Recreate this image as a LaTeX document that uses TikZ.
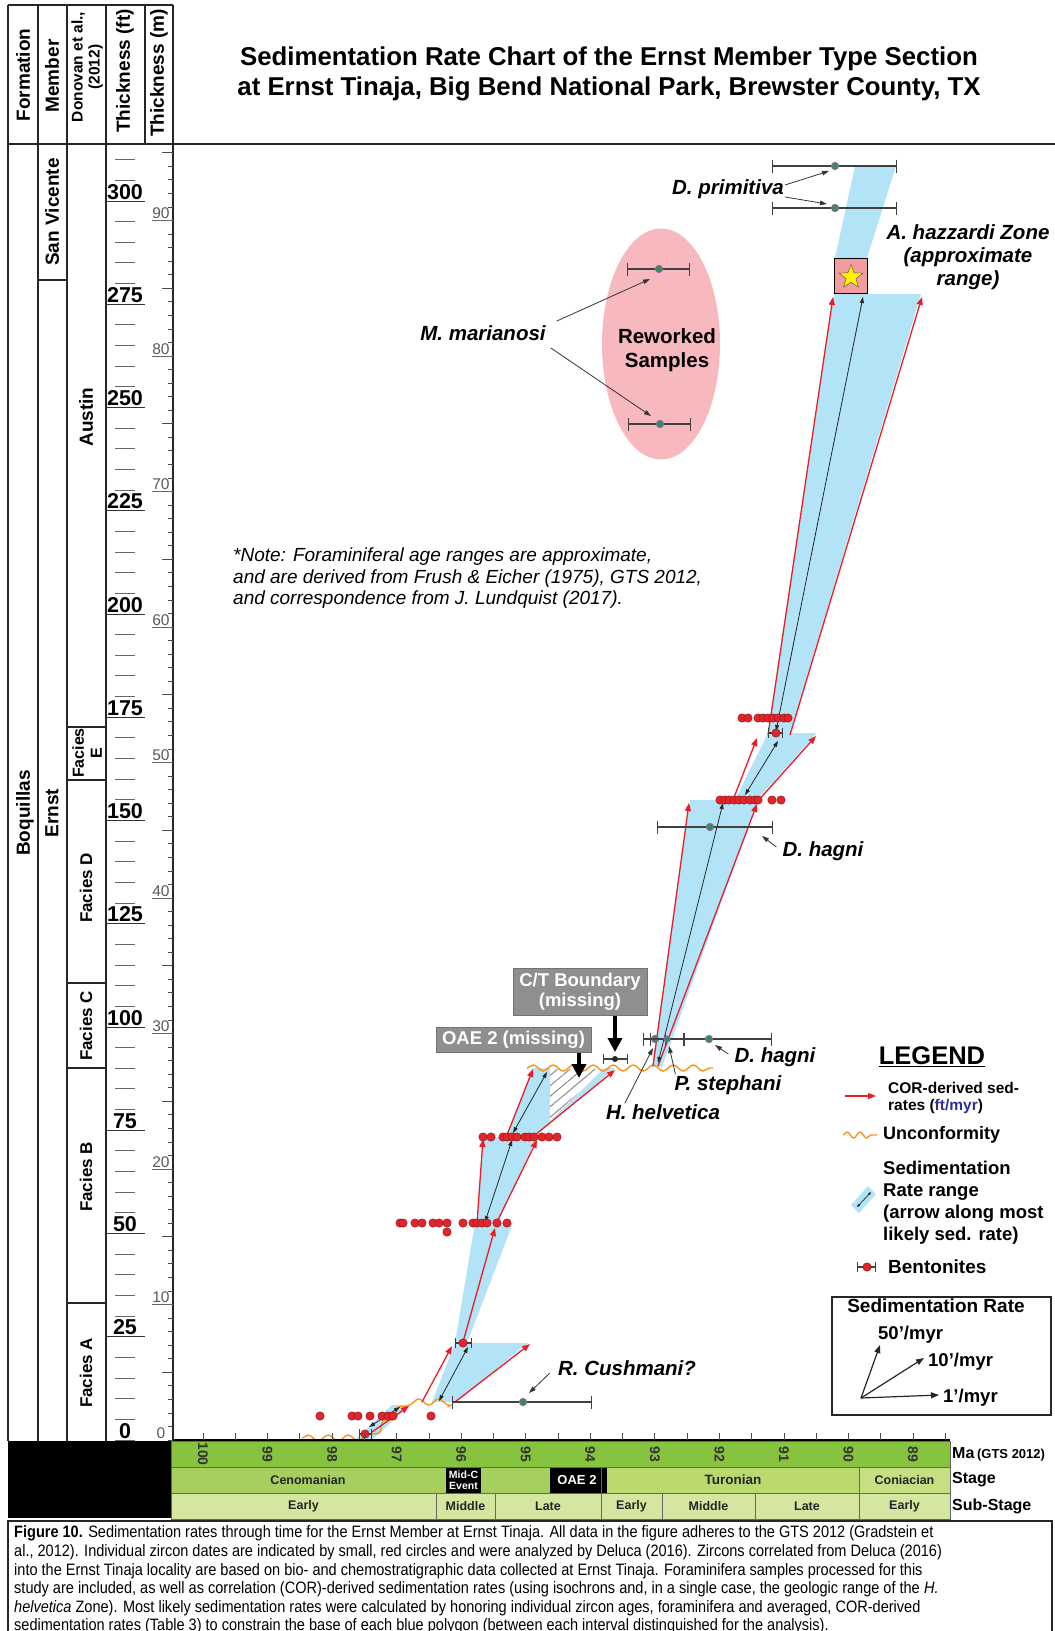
\documentclass[tikz,border=0pt]{standalone}
\usepackage{fontspec}
\setmainfont{Liberation Sans}
\newfontfamily\narrowfont[FakeStretch=0.881]{Liberation Sans}
\usetikzlibrary{arrows.meta,decorations.pathmorphing,patterns.meta,shapes.geometric}

\definecolor{rangeblue}{HTML}{B3E3F6}
\definecolor{corred}{HTML}{ED1C24}
\definecolor{zirconred}{HTML}{E3242B}
\definecolor{zirconrim}{HTML}{8E1B1F}
\definecolor{foramgreen}{HTML}{1E9A4C}
\definecolor{forampurple}{HTML}{A05CA8}
\definecolor{reworkpink}{HTML}{F7B9BE}
\definecolor{zonepink}{HTML}{F29CA0}
\definecolor{unconforange}{HTML}{F7941D}
\definecolor{missgray}{HTML}{8F8F8F}
\definecolor{magreen}{HTML}{86C440}
\definecolor{cenogreen}{HTML}{A6CF60}
\definecolor{turogreen}{HTML}{BAD96E}
\definecolor{conigreen}{HTML}{C6DF82}
\definecolor{subgreen}{HTML}{D5E6A0}
\definecolor{rateblue}{HTML}{2E3192}

\tikzset{
  frame/.style={line width=1.2pt, draw=black!85},
  colhead/.style={font=\fontsize{19}{21}\selectfont\bfseries, rotate=90, inner sep=0pt},
  facieshead/.style={font=\fontsize{17}{18}\selectfont\bfseries, rotate=90, inner sep=0pt, align=center},
  ftlabel/.style={font=\fontsize{21.5}{22}\selectfont\bfseries, anchor=base, inner sep=0pt},
  mlabel/.style={font=\fontsize{15.5}{16}\selectfont, text=black!65, anchor=base, inner sep=0pt},
  malabel/.style={font=\fontsize{14}{15}\selectfont\bfseries, text=black!80, rotate=-90, inner sep=0pt},
  bandtext/.style={font=\fontsize{12.5}{14}\selectfont\bfseries, text=black!85, inner sep=0pt},
  rowname/.style={font=\fontsize{16}{18}\selectfont\bfseries, anchor=west, inner sep=0pt},
  sedblue/.style={fill=rangeblue},
  cor/.style={draw=corred, line width=1.3pt, -{Triangle[length=8pt,width=6pt]}},
  likely/.style={draw=black!85, line width=0.8pt, {Triangle[length=6pt,width=4pt]}-{Triangle[length=6pt,width=4pt]}},
  ebar/.style={draw=black!75, line width=1.2pt, {Bar[width=13pt]}-{Bar[width=13pt]}},
  bbar/.style={draw=black!75, line width=1.2pt, {Bar[width=10pt]}-{Bar[width=10pt]}},
  zircon/.style={fill=zirconred, draw=zirconrim, line width=0.5pt},
  foram/.style={fill=foramgreen, draw=forampurple, line width=1pt},
  unconf/.style={draw=unconforange, line width=1.4pt, decorate, decoration={snake, segment length=20pt, amplitude=3pt}},
  species/.style={font=\fontsize{20.5}{23}\selectfont\bfseries\itshape, inner sep=1pt, align=center},
  pointer/.style={draw=black!80, line width=0.8pt, -{Triangle[length=7pt,width=4.5pt]}},
  missing/.style={fill=missgray, draw=black!55, line width=1pt, text=white, font=\fontsize{18.5}{20}\selectfont\bfseries, align=center, inner sep=0pt},
  bigdown/.style={draw=black, line width=3.5pt, -{Triangle[length=14pt,width=14pt]}},
  legtext/.style={font=\fontsize{18.5}{22}\selectfont\bfseries, anchor=west, inner sep=0pt, align=left},
  caption/.style={font=\narrowfont\fontsize{16.5}{18}\selectfont, anchor=west, inner sep=0pt}
}

\begin{document}
\begin{tikzpicture}[x=1pt,y=-1pt]
\useasboundingbox (0,0) rectangle (1055,1631);

% title
\node[font=\fontsize{25.8}{30}\selectfont\bfseries, align=center] (title) at (609,74)
  {Sedimentation Rate Chart of the Ernst Member Type Section\\at Ernst Tinaja, Big Bend National Park, Brewster County, TX};

% column frame
\draw[frame] (8,5) -- (173,5);
\foreach \x in {8,38,67,106,145,173} \draw[frame] (\x,5) -- (\x,144);
\draw[frame] (8,144) -- (1055,144);
\foreach \x in {8,38,67,106,173} \draw[frame] (\x,144) -- (\x,1441);
\draw[frame] (38,280) -- (67,280);
\foreach \y in {727,780,983,1068,1303} \draw[frame] (67,\y) -- (106,\y);

\node[colhead] (hform) at (23,75) {Formation};
\node[colhead] (hmember) at (52,76) {Member};
\node[colhead, align=center, font=\fontsize{15.5}{17}\selectfont\bfseries] (hdonovan) at (87,67) {Donovan et al.,\\(2012)};
\node[colhead] (hft) at (125,71) {Thickness (ft)};
\node[colhead] (hm) at (159,73) {Thickness (m)};

\node[colhead] (boq) at (25,813) {Boquillas};
\node[colhead] (sanv) at (52,212) {San Vicente};
\node[colhead] (ernst) at (52,813) {Ernst};
\node[colhead] (austin) at (86,417) {Austin};
\node[facieshead, font=\fontsize{16}{18}\selectfont\bfseries] (facE) at (87,753) {Facies\\E};
\node[facieshead] (facD) at (86,888) {Facies D};
\node[facieshead] (facC) at (86,1026) {Facies C};
\node[facieshead] (facB) at (86,1177) {Facies B};
\node[facieshead] (facA) at (86,1373) {Facies A};

% thickness scales
\foreach \f in {0,5,...,310} \draw[black!60, line width=1pt] (115,{1440-4.13*\f}) -- (135,{1440-4.13*\f});
\foreach \f in {25,50,...,300} \draw[black!80, line width=1pt] (106,{1440-4.13*\f}) -- (145,{1440-4.13*\f});
\foreach \f in {0,25,...,300} \node[ftlabel] at (125,{1438-4.13*\f}) {\f};
\foreach \m in {0,...,95} \draw[black!70, line width=0.8pt] (168,{1440-13.55*\m}) -- (173,{1440-13.55*\m});
\foreach \m in {5,15,...,95} \draw[black!70, line width=0.8pt] (162,{1440-13.55*\m}) -- (173,{1440-13.55*\m});
\foreach \m in {10,20,...,90} \draw[black!60, line width=0.8pt] (152,{1440-13.55*\m}) -- (173,{1440-13.55*\m});
\foreach \m in {0,10,...,90} \node[mlabel] at (161,{1438-13.55*\m}) {\m};

% reworked samples
\fill[reworkpink] (661,344) ellipse (59 and 115.5);
\node[font=\fontsize{20.5}{24}\selectfont\bfseries, align=center] (rework) at (667,350) {Reworked\\Samples};

% note
\node[font=\fontsize{19}{21.5}\selectfont\itshape, anchor=north west, align=left, inner sep=0pt] (note) at (233,548)
  {*Note: Foraminiferal age ranges are approximate,\\and are derived from Frush \& Eicher (1975), GTS 2012,\\and correspondence from J. Lundquist (2017).};

% blue sedimentation rate polygons
\fill[sedblue] (855,166) -- (896,166) -- (867,258) -- (835,258) -- cycle;
\fill[sedblue] (768,733) -- (790,733) -- (921,294) -- (834,294) -- cycle;
\fill[sedblue] (735,800) -- (757,800) -- (817,733) -- (768,733) -- cycle;
\fill[sedblue] (652,1067) -- (662,1067) -- (758,800) -- (690,800) -- cycle;
\fill[sedblue] (506,1136) -- (533,1068) -- (615,1068) -- (535,1136) -- cycle;
\fill[sedblue] (477,1223) -- (497,1223) -- (537,1137) -- (483,1137) -- cycle;
\fill[sedblue] (455,1343) -- (467,1343) -- (513,1223) -- (475,1223) -- cycle;
\fill[sedblue] (432,1402) -- (456,1402) -- (528,1343) -- (455,1343) -- cycle;
\fill[sedblue] (355,1440) -- (372,1440) -- (410,1405) -- (392,1405) -- cycle;
\fill[white] (550,1068) -- (604,1068) -- (550,1121) -- cycle;
\fill[pattern={Lines[angle=40,distance=8pt,line width=1pt]}, pattern color=black!45] (550,1069) -- (603,1069) -- (550,1120) -- cycle;

% A. hazzardi zone
\draw[fill=zonepink, line width=1pt] (834,258) rectangle (867,293);
\node[star, star points=5, star point ratio=2.4, fill=yellow, draw=black!70, minimum size=25pt, inner sep=0pt] (hazstar) at (851,277) {};
\node[species] (hazz) at (968,257) {A. hazzardi Zone\\(approximate\\range)};

% unconformities
\draw[unconf] (527,1068) -- (713,1068);
\draw[unconf] (302,1438) -- (362,1438) -- (397,1405) -- (453,1405);

% COR-derived and most likely rates
\draw[cor] (768,735) -- (833,297);
\draw[cor] (790,735) -- (922,297);
\draw[likely] (776,731) -- (863,297);
\draw[cor] (733,800) -- (757,738);
\draw[cor] (757,802) -- (816,736);
\draw[likely] (745,795) -- (778,741);
\draw[cor] (653,1066) -- (689,803);
\draw[cor] (658,1066) -- (757,804);
\draw[likely] (658,1063) -- (723,803);
\draw[cor] (507,1135) -- (533,1069);
\draw[cor] (535,1135) -- (615,1070);
\draw[likely] (513,1133) -- (547,1072);
\draw[cor] (477,1223) -- (483,1139);
\draw[cor] (497,1222) -- (537,1140);
\draw[likely] (485,1222) -- (512,1140);
\draw[cor] (463,1342) -- (495,1228);
\draw[cor] (422,1402) -- (452,1346);
\draw[cor] (455,1402) -- (530,1344);
\draw[likely] (439,1401) -- (468,1347);
\draw[cor] (372,1432) -- (409,1406);
\draw[likely] (369,1427) -- (400,1407);

% foraminifera ranges
\draw[ebar] (772,166) -- (897,166); \filldraw[foram] (835,166) circle (3.6);
\draw[ebar] (772,208) -- (897,208); \filldraw[foram] (835,208) circle (3.6);
\draw[ebar] (627,269) -- (690,269); \filldraw[foram] (659,269) circle (3.6);
\draw[ebar] (628,424) -- (691,424); \filldraw[foram] (660,424) circle (3.6);
\draw[ebar] (657,827) -- (773,827); \filldraw[foram] (710,827) circle (3.6);
\draw[ebar] (684,1039) -- (772,1039); \filldraw[foram] (709,1039) circle (3.6);
\draw[ebar] (643,1039) -- (666,1039); \filldraw[foram] (655,1039) circle (3.6);
\draw[ebar] (650,1039) -- (684,1039); \filldraw[foram] (667,1039) circle (3);
\draw[bbar] (603,1059) -- (628,1059); \fill[black!85] (615,1059) circle (3);

\draw[ebar] (452,1402) -- (592,1402); \filldraw[foram] (523,1402) circle (3.6);

% zircon dates (bentonites)
\foreach \x in {742,748,758,763,768,773,778,784,788} \filldraw[zircon] (\x,718) circle (4.2);
\draw[bbar] (768,733) -- (783,733); \filldraw[zircon] (776,733) circle (4.2);
\foreach \x in {720,725,729,734,739,744,750,755,758,772,781} \filldraw[zircon] (\x,800) circle (4.2);
\foreach \x in {483,491,503,507,512,517,525,529,534,542,549,557} \filldraw[zircon] (\x,1137) circle (4.2);
\foreach \x in {400,403,415,422,433,439,447,463,473,477,482,487,497,507} \filldraw[zircon] (\x,1223) circle (4.2);
\filldraw[zircon] (447,1232) circle (4.2);
\draw[bbar] (455,1343) -- (472,1343); \filldraw[zircon] (463,1343) circle (4.2);
\foreach \x in {320,352,358,370,382,388,393,431} \filldraw[zircon] (\x,1416) circle (4.2);
\draw[bbar] (359,1434) -- (372,1434); \filldraw[zircon] (365,1434) circle (4.2);

% species labels
\node[species] (dprim) at (728,189) {D. primitiva};
\coordinate (dprimtop) at (829,171);
\coordinate (dprimlow) at (827,204);
\draw[pointer] ([yshift=4pt]dprim.east) -- (dprimtop);
\draw[pointer] ([yshift=-8pt]dprim.east) -- (dprimlow);

\node[species] (mmar) at (483,333) {M. marianosi};
\coordinate (mmartop) at (650,279);
\coordinate (mmarlow) at (651,416);
\draw[pointer] ([xshift=10pt,yshift=12pt]mmar.east) -- (mmartop);
\draw[pointer] ([xshift=4pt,yshift=-15pt]mmar.east) -- (mmarlow);

\node[species] (dhagtop) at (823,851) {D. hagni};
\coordinate (dhagtoptip) at (762,836);
\draw[pointer] ([xshift=-5pt,yshift=4pt]dhagtop.west) -- (dhagtoptip);

\node[species] (dhaglow) at (775,1057) {D. hagni};
\coordinate (dhaglowtip) at (715,1045);
\draw[pointer] ([xshift=-5pt,yshift=3pt]dhaglow.west) -- (dhaglowtip);

\node[species] (pstep) at (728,1085) {P. stephani};
\coordinate (psteptip) at (669,1046);
\draw[pointer] ([xshift=2pt]pstep.north west) -- (psteptip);

\node[species] (hhelv) at (663,1112) {H. helvetica};
\coordinate (hhelvtip) at (653,1048);
\draw[pointer] ([xshift=20pt]hhelv.north west) -- (hhelvtip);

\node[species] (rcush) at (627,1368) {R. Cushmani?};
\coordinate (rcushtip) at (529,1393);
\draw[pointer] ([xshift=-7pt,yshift=-5pt]rcush.west) -- (rcushtip);

% missing intervals
\node[missing, minimum width=134pt, minimum height=47pt] (ctbox) at (580,992) {C/T Boundary\\(missing)};
\coordinate (cttip) at (615,1052);
\draw[bigdown] ([xshift=35pt]ctbox.south) -- (cttip);
\node[missing, minimum width=155pt, minimum height=25pt] (oaebox) at (513.5,1039.5) {OAE 2 (missing)};
\coordinate (oaetip) at (579,1078);
\draw[bigdown] ([xshift=65.5pt]oaebox.south) -- (oaetip);

% legend
\node[font=\fontsize{25.5}{28}\selectfont\bfseries, inner sep=0pt] (legtitle) at (932,1057) {\underline{LEGEND}};
\coordinate (legcorA) at (845,1096); \coordinate (legcorB) at (876,1096);
\draw[cor] (legcorA) -- (legcorB);
\node[legtext, font=\fontsize{15.5}{17}\selectfont\bfseries] (legcor) at (888,1098) {COR-derived sed-\\rates (\textcolor{rateblue}{ft/myr})};
\coordinate (legwavA) at (843,1135); \coordinate (legwavB) at (877,1135);
\draw[unconf, decoration={snake, segment length=13pt, amplitude=3pt}] (legwavA) -- (legwavB);
\node[legtext, font=\fontsize{18}{20}\selectfont\bfseries] (legunc) at (883,1135) {Unconformity};
\fill[sedblue] (851,1205) -- (859,1213) -- (876,1194) -- (868,1186) -- cycle;
\coordinate (legrngA) at (857,1207); \coordinate (legrngB) at (871,1192);
\draw[black!85, line width=0.7pt, {Triangle[length=3pt,width=2.5pt]}-{Triangle[length=3pt,width=2.5pt]}] (legrngA) -- (legrngB);
\node[legtext] (legrng) at (883,1203) {Sedimentation\\Rate range\\(arrow along most\\likely sed. rate)};
\coordinate (legbenA) at (857,1267); \coordinate (legbenB) at (876,1267);
\draw[bbar] (legbenA) -- (legbenB); \filldraw[zircon] (867,1267) circle (4.2);
\node[legtext, font=\fontsize{19}{21}\selectfont\bfseries] (legben) at (888,1267) {Bentonites};

\draw[line width=1.2pt, black!85] (832,1297) rectangle (1051,1415);
\node[font=\fontsize{19}{21}\selectfont\bfseries, inner sep=0pt] (ratetitle) at (936,1306) {Sedimentation Rate};
\coordinate (rateorig) at (861,1398);
\node[legtext] (rate50) at (878,1335) {50’/myr};
\node[legtext] (rate10) at (928,1362) {10’/myr};
\node[legtext] (rate1) at (943,1398) {1’/myr};
\draw[black!85, line width=1.2pt, -{Triangle[length=8pt,width=6pt]}] (rateorig) -- (880,1345);
\draw[black!85, line width=1.2pt, -{Triangle[length=8pt,width=6pt]}] (rateorig) -- (924,1358);
\draw[black!85, line width=1.2pt, -{Triangle[length=8pt,width=6pt]}] (rateorig) -- (939,1395);

% time scale
\fill[black] (8,1441) rectangle (171,1518);
\fill[magreen] (171,1441) rectangle (950,1467);
\fill[cenogreen] (171,1467) rectangle (601,1493);
\fill[turogreen] (601,1467) rectangle (859,1493);
\fill[conigreen] (859,1467) rectangle (950,1493);
\fill[subgreen] (171,1493) rectangle (950,1519);
\fill[black] (446,1467) rectangle (481,1493);
\fill[black] (550,1467) rectangle (607,1493);
\draw[black!60, line width=1pt] (171,1441) rectangle (950,1519);
\draw[black!60, line width=1pt] (171,1467) -- (950,1467) (171,1493) -- (950,1493);
\draw[black!60, line width=1pt] (601,1467) -- (601,1493) (859,1467) -- (859,1493);
\foreach \x in {436,495,601,662,755,859} \draw[black!60, line width=1pt] (\x,1493) -- (\x,1519);
\draw[black, line width=1.2pt] (173,1440) -- (950,1440);
\foreach \k in {0,...,23} \draw[black!70, line width=0.8pt] ({203+32.275*\k},1440) -- ({203+32.275*\k},1433);
\foreach \k in {0,...,11} {
  \pgfmathtruncatemacro{\ma}{100-\k}
  \node[malabel] at ({203+64.55*\k},1454) {\ma};
}
\node[bandtext] (ceno) at (308,1480) {Cenomanian};
\node[bandtext, text=white, align=center, font=\fontsize{10.5}{11}\selectfont\bfseries] (midc) at (463.5,1480) {Mid-C\\Event};
\node[bandtext, text=white, font=\fontsize{13}{14}\selectfont\bfseries] (oae) at (577,1480) {OAE 2};
\node[bandtext, font=\fontsize{13.5}{14}\selectfont\bfseries] (turo) at (733,1480) {Turonian};
\node[bandtext] (coni) at (904.5,1480) {Coniacian};
\node[bandtext] at (303.5,1506) {Early};
\node[bandtext] at (465.5,1506) {Middle};
\node[bandtext] at (548,1506) {Late};
\node[bandtext] at (631.5,1506) {Early};
\node[bandtext] at (708.5,1506) {Middle};
\node[bandtext] at (807,1506) {Late};
\node[bandtext] at (904.5,1506) {Early};
\node[rowname] (marow) at (952,1454) {Ma\,{\fontsize{13}{14}\selectfont(GTS 2012)}};
\node[rowname] (stagerow) at (952,1480) {Stage};
\node[rowname] (subrow) at (952,1506) {Sub-Stage};

% caption
\draw[line width=1.2pt, black!85] (8,1631) -- (8,1521) -- (1052,1521) -- (1052,1631);
\node[caption] (cap1) at (14,1533) {\textbf{Figure 10.} Sedimentation rates through time for the Ernst Member at Ernst Tinaja. All data in the figure adheres to the GTS 2012 (Gradstein et};
\node[caption] (cap2) at (14,1552) {al., 2012). Individual zircon dates are indicated by small, red circles and were analyzed by Deluca (2016). Zircons correlated from Deluca (2016)};
\node[caption] (cap3) at (14,1571) {into the Ernst Tinaja locality are based on bio- and chemostratigraphic data collected at Ernst Tinaja. Foraminifera samples processed for this};
\node[caption] (cap4) at (14,1589) {study are included, as well as correlation (COR)-derived sedimentation rates (using isochrons and, in a single case, the geologic range of the \textit{H.}};
\node[caption] (cap5) at (14,1608) {\textit{helvetica} Zone). Most likely sedimentation rates were calculated by honoring individual zircon ages, foraminifera and averaged, COR-derived};
\node[caption] (cap6) at (14,1626) {sedimentation rates (Table 3) to constrain the base of each blue polygon (between each interval distinguished for the analysis).};
\end{tikzpicture}
\end{document}
